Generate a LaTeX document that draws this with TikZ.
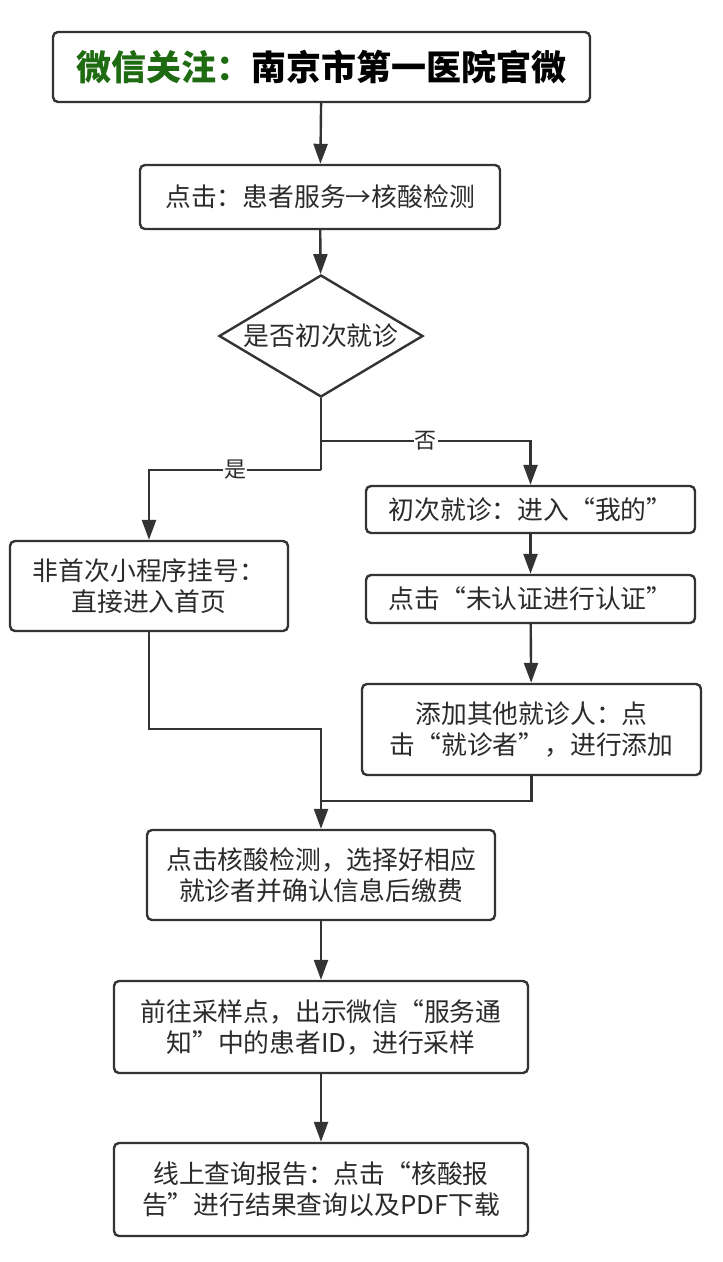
\documentclass[tikz,border=0pt]{standalone}
\usepackage{fontspec}
\setmainfont{Noto Sans CJK SC}
\usetikzlibrary{shapes.geometric,arrows.meta}
\definecolor{ln}{HTML}{333333}
\definecolor{tx}{HTML}{2B2B2B}
\definecolor{grn}{HTML}{1E6B12}
\begin{document}
\begin{tikzpicture}[x=1pt,y=-1pt,
 box/.style={draw=ln,line width=2.4pt,rounded corners=5pt,fill=white,align=center,text=tx,font=\fontsize{25.8}{31}\selectfont,inner sep=0pt},
 arr/.style={draw=ln,line width=2.4pt,-{Triangle[length=20pt,width=14pt]}},
 lnk/.style={draw=ln,line width=2.4pt},
 lab/.style={fill=white,text=tx,font=\fontsize{22}{24}\selectfont,inner sep=1pt}]
\fill[white] (0,0) rectangle (723,1262);
\useasboundingbox (0,0) rectangle (723,1262);
\node[box,minimum width=537pt,minimum height=70pt,text=black,font=\fontsize{35}{40}\selectfont\bfseries] (T) at (321.5,67) {\textcolor{grn}{微信关注：}南京市第一医院官微};
\node[box,minimum width=360pt,minimum height=64pt] (B) at (320,197) {点击：患者服务→核酸检测};
\node[draw=ln,line width=2.4pt,diamond,aspect=1.67,minimum width=204pt,minimum height=122pt,inner sep=0pt,text=tx,font=\fontsize{25.8}{31}\selectfont] (D) at (321,336) {是否初次就诊};
\node[box,minimum width=278pt,minimum height=90pt] (L) at (149,586) {非首次小程序挂号：\\直接进入首页};
\node[box,minimum width=329pt,minimum height=47pt] (R1) at (530.5,509.5) {初次就诊：进入“我的”};
\node[box,minimum width=329pt,minimum height=48pt] (R2) at (530.5,599) {点击“未认证进行认证”};
\node[box,minimum width=339pt,minimum height=91pt] (R3) at (531.5,729.5) {添加其他就诊人：点\\击“就诊者”，进行添加};
\node[box,minimum width=348pt,minimum height=90pt] (N) at (321,875) {点击核酸检测，选择好相应\\就诊者并确认信息后缴费};
\node[box,minimum width=414pt,minimum height=92pt] (S) at (321,1027) {前往采样点，出示微信“服务通\\知”中的患者ID，进行采样};
\node[box,minimum width=414pt,minimum height=93pt] (F) at (321,1189.5) {线上查询报告：点击“核酸报\\告”进行结果查询以及PDF下载};
\coordinate (sp) at (321,441);
\coordinate (sl) at (321,470);
\coordinate (m1) at (321,729);
\coordinate (m2) at (321,801);
\draw[arr] (T) -- (B);
\draw[arr] (B) -- (D);
\draw[lnk] (D.south) -- (sl);
\draw[arr] (sl) -| node[lab,pos=0.25]{是} (L.north);
\draw[arr] (sp) -| node[lab,pos=0.25]{否} (R1.north);
\draw[arr] (R1) -- (R2);
\draw[arr] (R2) -- (R3);
\draw[arr] (L.south) |- (m1) -- (N.north);
\draw[lnk] (R3.south) |- (m2);
\draw[arr] (N) -- (S);
\draw[arr] (S) -- (F);
\end{tikzpicture}
\end{document}
